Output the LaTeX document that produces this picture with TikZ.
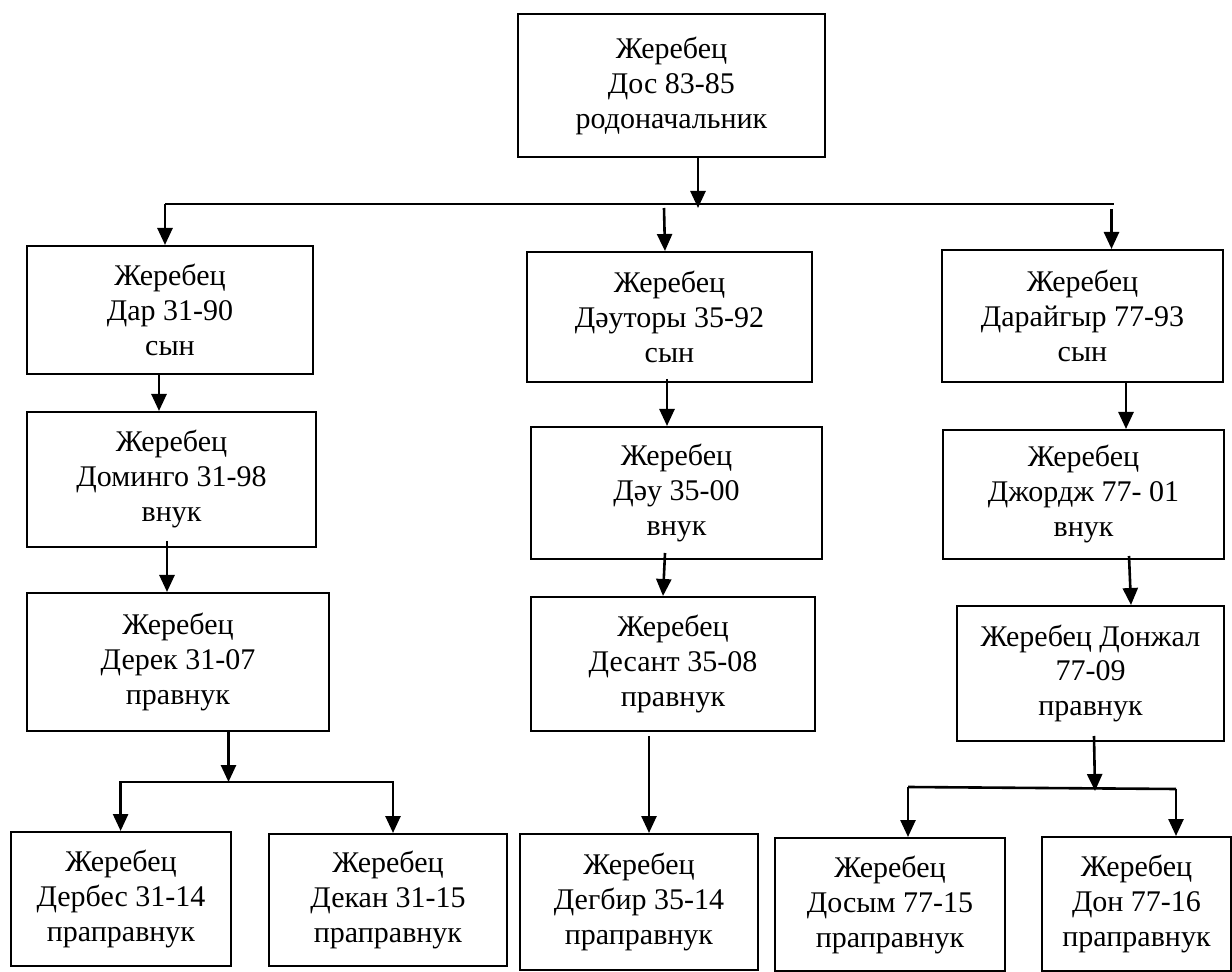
\documentclass[tikz,border=0pt]{standalone}
\usepackage{fontspec}
\setmainfont{Liberation Serif}
\usetikzlibrary{arrows.meta,calc}

\tikzset{
  horse/.style={draw,line width=1pt,align=center,inner sep=2pt,
    font=\fontsize{15}{17.5}\selectfont},
  link/.style={line width=1.3pt,-{Triangle[width=7.5pt,length=8.5pt]}},
  bar/.style={line width=1.3pt}
}

\begin{document}
\begin{tikzpicture}[x=0.5pt,y=-0.5pt]
  \path[use as bounding box,fill=white] (0,0) rectangle (1232,972);

  % founder
  \node[horse,minimum width=153.5pt,minimum height=71.5pt] (dos) at (671.5,85.5)
    {Жеребец\\Дос 83-85\\родоначальник};

  % left line
  \node[horse,minimum width=143pt,minimum height=64pt] (dar) at (170,310)
    {Жеребец\\Дар 31-90\\сын};
  \node[horse,minimum width=144.5pt,minimum height=67.5pt] (domingo) at (171.5,479.5)
    {Жеребец\\Доминго 31-98\\внук};
  \node[horse,minimum width=151pt,minimum height=69pt] (derek) at (178,662)
    {Жеребец\\Дерек 31-07\\правнук};
  \node[horse,minimum width=110pt,minimum height=67pt] (derbes) at (121,899)
    {Жеребец\\Дербес 31-14\\праправнук};
  \node[horse,minimum width=119pt,minimum height=66pt] (dekan) at (388,900)
    {Жеребец\\Декан 31-15\\праправнук};

  % middle line
  \node[horse,minimum width=142.5pt,minimum height=65pt] (dauytory) at (669.5,317)
    {Жеребец\\Дәуторы 35-92\\сын};
  \node[horse,minimum width=145.5pt,minimum height=66pt] (dau) at (676.5,493)
    {Жеребец\\Дәу 35-00\\внук};
  \node[horse,minimum width=142pt,minimum height=67pt] (desant) at (673,664)
    {Жеребец\\Десант 35-08\\правнук};
  \node[horse,minimum width=119pt,minimum height=68pt] (degbir) at (639,902)
    {Жеребец\\Дегбир 35-14\\праправнук};

  % right line
  \node[horse,minimum width=140.5pt,minimum height=66pt] (daraigyr) at (1082.5,316)
    {Жеребец\\Дарайгыр 77-93\\сын};
  \node[horse,minimum width=140.5pt,minimum height=64.5pt] (jorj) at (1083.5,494.5)
    {Жеребец\\Джордж 77- 01\\внук};
  \node[horse,minimum width=133.5pt,minimum height=67.5pt] (donzhal) at (1090.5,673.5)
    {Жеребец Донжал\\77-09\\правнук};
  \node[horse,minimum width=115pt,minimum height=66.5pt] (dosym) at (890,904.5)
    {Жеребец\\Досым 77-15\\праправнук};
  \node[horse,minimum width=94.5pt,minimum height=67pt] (don) at (1136.5,904)
    {Жеребец\\Дон 77-16\\праправнук};

  % bus points
  \coordinate (top0) at (698,208);
  \coordinate (busL) at (165,204);
  \coordinate (busR) at (1114,204);
  \coordinate (busM) at (664,208);
  \coordinate (busRR) at (1111.5,209);
  \coordinate (fork1) at (228.5,782);
  \coordinate (fork3) at (1095,791);
  \coordinate (bar3L) at (908,787);
  \coordinate (bar3R) at (1176,789);

  % founder to sons
  \draw[link] ($(dos.south)+(26.5,0)$) -- (top0);
  \draw[bar] (busL) -- (busR);
  \draw[link] (busL) -- ($(dar.north)+(-5,0)$);
  \draw[link] (busM) -- ($(dauytory.north)+(-4.5,0)$);
  \draw[link] (busRR) -- ($(daraigyr.north)+(29,0)$);

  % left
  \draw[link] ($(dar.south)+(-11,0)$) -- ($(domingo.north)+(-12.5,0)$);
  \draw[link] ($(domingo.south)+(-4.5,-7)$) -- ($(derek.north)+(-11,0)$);
  \draw[link] ($(derek.south)+(50.5,0)$) -- (fork1);
  \draw[link] (fork1) -| ($(derbes.north)+(-0.4,0)$);
  \draw[link] (fork1) -| ($(dekan.north)+(5,0)$);

  % middle
  \draw[link] ($(dauytory.south)+(-2.5,-4)$) -- ($(dau.north)+(-9.5,0)$);
  \draw[link] ($(dau.south)+(-11.5,-7)$) -- ($(desant.north)+(-10,0)$);
  \draw[link] ($(desant.south)+(-24,4)$) -- ($(degbir.north)+(10,0)$);

  % right
  \draw[link] ($(daraigyr.south)+(43.5,0)$) -- ($(jorj.north)+(42.5,0)$);
  \draw[link] ($(jorj.south)+(45.5,-4)$) -- ($(donzhal.north)+(40.5,0)$);
  \draw[link] ($(donzhal.south)+(3.5,-6)$) -- (fork3);
  \draw[bar] (bar3L) -- (bar3R);
  \draw[link] (bar3L) -- ($(dosym.north)+(18,0)$);
  \draw[link] (bar3R) -- ($(don.north)+(39.5,0)$);
\end{tikzpicture}
\end{document}
